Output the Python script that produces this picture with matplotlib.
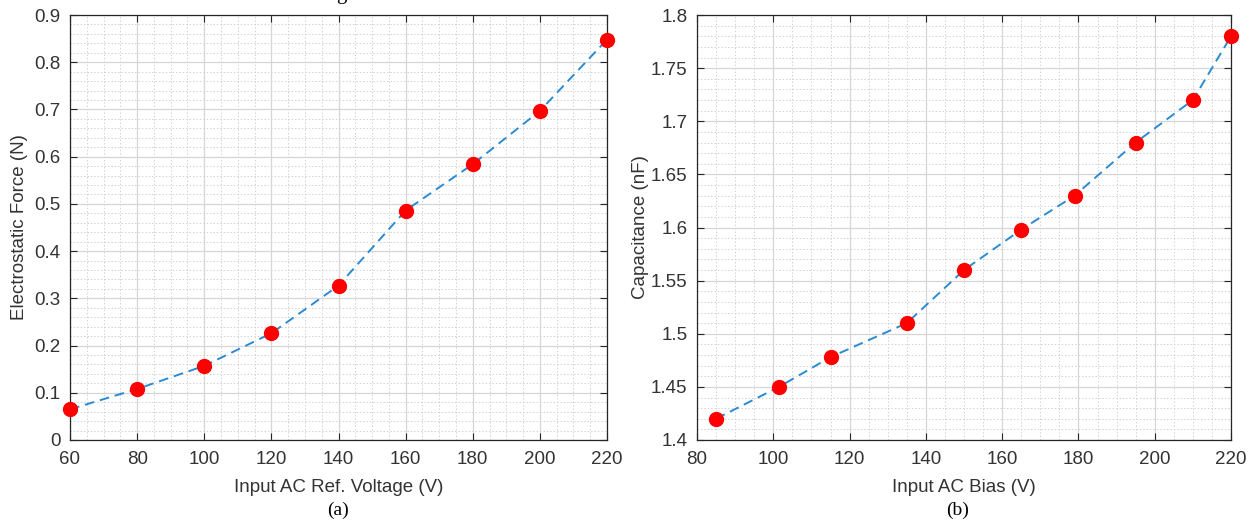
import matplotlib
matplotlib.use("Agg")
import matplotlib.pyplot as plt
from matplotlib.ticker import MultipleLocator, FuncFormatter

# (a) electrostatic force vs. reference voltage
volt_a = [60, 80, 100, 120, 140, 160, 180, 200, 220]
force_a = [0.065, 0.108, 0.157, 0.226, 0.327, 0.486, 0.584, 0.697, 0.848]

# (b) capacitance vs. AC bias
volt_b = [85, 101.5, 115, 135, 150, 165, 179, 195, 210, 220]
cap_b = [1.42, 1.45, 1.478, 1.51, 1.56, 1.598, 1.63, 1.68, 1.72, 1.78]

plt.rcParams["font.family"] = ["Liberation Sans", "DejaVu Sans"]

AX_COLOR = "#262626"
LABEL_COLOR = "#333333"
LINE_COLOR = "#2a8bd2"


def style_axes(ax, xmaj, xmin, ymaj, ymin):
    ax.xaxis.set_major_locator(MultipleLocator(xmaj))
    ax.xaxis.set_minor_locator(MultipleLocator(xmin))
    ax.yaxis.set_major_locator(MultipleLocator(ymaj))
    ax.yaxis.set_minor_locator(MultipleLocator(ymin))
    fmt = FuncFormatter(lambda v, _: "%g" % round(v, 6))
    ax.xaxis.set_major_formatter(fmt)
    ax.yaxis.set_major_formatter(fmt)
    ax.grid(True, which="major", color="#d6d6d6", linewidth=0.9)
    ax.grid(True, which="minor", color="#d2d2d2", linestyle=(0, (1.5, 2)), linewidth=0.7)
    ax.set_axisbelow(True)
    ax.tick_params(which="both", direction="in", top=True, right=True,
                   colors=AX_COLOR, labelsize=13.5, labelcolor=LABEL_COLOR)
    ax.tick_params(which="major", length=5, width=0.8)
    ax.tick_params(axis="x", which="major", pad=8)
    ax.tick_params(axis="y", which="major", pad=7)
    ax.tick_params(which="minor", length=0)
    for s in ax.spines.values():
        s.set_color(AX_COLOR)
        s.set_linewidth(0.9)


fig = plt.figure(figsize=(12.49, 5.2), dpi=100)
W, H = 1249, 520
ax1 = fig.add_axes([70 / W, 1 - 440 / H, 537 / W, 425 / H])
ax2 = fig.add_axes([697 / W, 1 - 440 / H, 534 / W, 425 / H])

ax1.plot(volt_a, force_a, linestyle="--", color=LINE_COLOR, linewidth=1.4, dashes=(5, 3),
         marker="o", markersize=10, markerfacecolor="#ff0000", markeredgecolor="#ff0000",
         clip_on=False, zorder=3)
ax1.set_xlim(60, 220)
ax1.set_ylim(0, 0.9)
style_axes(ax1, 20, 5, 0.1, 0.02)
ax1.set_xlabel("Input AC Ref. Voltage (V)", fontsize=13.5, color=LABEL_COLOR, labelpad=8)
ax1.set_ylabel("Electrostatic Force (N)", fontsize=13.5, color=LABEL_COLOR, labelpad=4)

ax2.plot(volt_b, cap_b, linestyle="--", color=LINE_COLOR, linewidth=1.4, dashes=(5, 3),
         marker="o", markersize=10, markerfacecolor="#ff0000", markeredgecolor="#ff0000",
         clip_on=False, zorder=3)
ax2.set_xlim(80, 220)
ax2.set_ylim(1.4, 1.8)
style_axes(ax2, 20, 5, 0.05, 0.01)
ax2.set_xlabel("Input AC Bias (V)", fontsize=13.5, color=LABEL_COLOR, labelpad=8)
ax2.set_ylabel("Capacitance (nF)", fontsize=13.5, color=LABEL_COLOR, labelpad=1)

fig.text(338 / W, 1 - 510 / H, "(a)", family="Liberation Serif", fontsize=14, ha="center", va="center")
fig.text(958 / W, 1 - 510 / H, "(b)", family="Liberation Serif", fontsize=14, ha="center", va="center")
# descender of a cropped caption line above the figure
fig.text(341 / W, 1 + 1 / H, "g", family="Liberation Serif", fontsize=15, ha="center", va="baseline")

fig.savefig("out.png", dpi=100)
